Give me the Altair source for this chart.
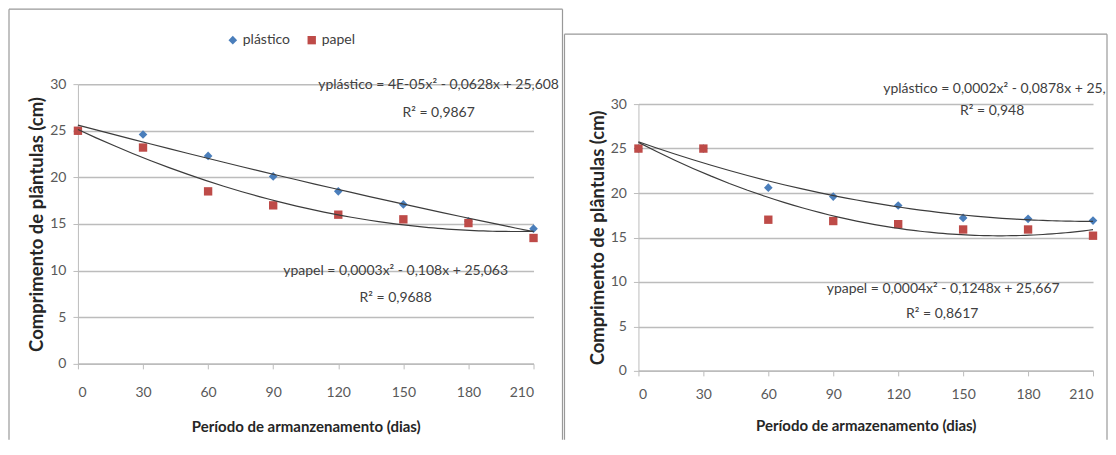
import altair as alt
import pandas as pd

# ---------------- data ----------------
dias = [0, 30, 60, 90, 120, 150, 180, 210]
series = ["plástico", "papel"]

# left chart
a_plastico = [25.0, 24.6, 22.3, 20.1, 18.5, 17.1, 15.3, 14.5]
a_papel = [25.0, 23.2, 18.5, 17.0, 16.0, 15.5, 15.1, 13.5]
# right chart
b_plastico = [25.0, 25.0, 20.6, 19.6, 18.6, 17.2, 17.1, 16.9]
b_papel = [25.0, 25.0, 17.0, 16.85, 16.5, 15.9, 15.9, 15.2]

y_ticks = [0, 5, 10, 15, 20, 25, 30]
a_texts = ["yplástico = 4E-05x² - 0,0628x + 25,608", "R² = 0,9867",
           "ypapel = 0,0003x² - 0,108x + 25,063", "R² = 0,9688"]
b_texts = ["yplástico = 0,0002x² - 0,0878x + 25,788", "R² = 0,948",
           "ypapel = 0,0004x² - 0,1248x + 25,667", "R² = 0,8617"]
y_title = "Comprimento de plântulas  (cm)"
a_x_title = "Período de armanzenamento (dias)"
b_x_title = "Período de armazenamento (dias)"

# ---------------- style ----------------
FONT = "Lato"
COLORS = ["#4A7EBB", "#BE4B48"]
SHAPES = ["diamond", "square"]
GRID = "#bcbcbc"
FRAME = "#999999"
TXT = "#404040"


def one(v):
    return alt.Chart(pd.DataFrame({"t": [v]}))


def panel(plas, pap, W, H, yrange, xtitle, texts, text_pos, frame, legend_xy,
          xtitle_y, xlabel_pad):
    df = pd.DataFrame({
        "dias": dias + dias,
        "valor": plas + pap,
        "serie": [series[0]] * len(dias) + [series[1]] * len(dias),
    })
    xenc = alt.X("dias:Q",
                 scale=alt.Scale(domain=[0, 210], nice=False, zero=False),
                 axis=alt.Axis(values=dias, grid=False, title=xtitle,
                               labelFont=FONT, labelFontSize=14, labelColor="#595959",
                               labelPadding=xlabel_pad, tickSize=5, tickColor=GRID,
                               domainColor=GRID, domainWidth=1.5,
                               titleFont=FONT, titleFontSize=15, titleFontWeight="bold",
                               titleColor="#262626", titleX=W / 2, titleY=xtitle_y,
                               titleAlign="center", titleBaseline="middle"))
    yenc = alt.Y("valor:Q",
                 scale=alt.Scale(domain=[0, 30], nice=False, zero=False, range=yrange),
                 axis=alt.Axis(values=y_ticks, grid=True, gridColor=GRID, gridWidth=1.5,
                               title=y_title, labelFont=FONT, labelFontSize=14,
                               labelColor="#595959", labelPadding=7, tickSize=5,
                               tickColor=GRID, domainColor=GRID, domainWidth=1,
                               titleFont=FONT, titleFontSize=18.5, titleFontWeight="bold",
                               titleColor="#262626", titleAngle=270, titleX=-41,
                               titleY=(yrange[0] + yrange[1]) / 2, titleAlign="center",
                               titleBaseline="middle"))
    base = alt.Chart(df)
    pts = base.mark_point(filled=True, opacity=1, strokeWidth=0).encode(
        x=xenc, y=yenc,
        color=alt.Color("serie:N", scale=alt.Scale(domain=series, range=COLORS),
                        legend=alt.Legend(title=None, orient="none", direction="horizontal",
                                          legendX=legend_xy[0], legendY=legend_xy[1],
                                          labelFont=FONT, labelFontSize=14, labelColor=TXT,
                                          symbolSize=45, symbolStrokeWidth=0,
                                          labelOffset=3, columnPadding=14, padding=0)),
        shape=alt.Shape("serie:N", scale=alt.Scale(domain=series, range=SHAPES)),
        size=alt.Size("serie:N", scale=alt.Scale(domain=series, range=[75, 70]), legend=None),
    )
    fit = base.transform_regression("dias", "valor", method="poly", order=2,
                                    groupby=["serie"]).mark_line(
        color="#3c3c3c", strokeWidth=1.2).encode(x="dias:Q", y="valor:Q", detail="serie:N")

    fx1, fx2, fy1, fy2 = frame
    layers = [
        one("l").mark_rule(stroke=FRAME, strokeWidth=1.2).encode(
            x=alt.value(fx1), y=alt.value(fy1), y2=alt.value(fy2)),
        one("r").mark_rule(stroke=FRAME, strokeWidth=1.2).encode(
            x=alt.value(fx2), y=alt.value(fy1), y2=alt.value(fy2)),
        one("t").mark_rule(stroke=FRAME, strokeWidth=1.2).encode(
            x=alt.value(fx1), x2=alt.value(fx2), y=alt.value(fy1)),
        pts, fit,
    ]
    for t, (px, py, al, lim) in zip(texts, text_pos):
        layers.append(one(t).mark_text(font=FONT, fontSize=14, color=TXT, align=al,
                                       baseline="middle", limit=lim,
                                       ellipsis="\u200b").encode(
            text="t:N", x=alt.value(px), y=alt.value(py)))
    return alt.layer(*layers).properties(width=W, height=H)


left = panel(a_plastico, a_papel, 456, 280, [280, 0], a_x_title, a_texts,
             [(361, 1, "center", 400), (361, 29, "center", 400),
              (318, 187, "center", 400), (318, 214, "center", 400)],
             (-69, 485, -75, 356), (148, -51), 63, 17)
right = panel(b_plastico, b_papel, 455, 287, [287, 20], b_x_title, b_texts,
              [(245, 5, "left", 230), (354, 27, "center", 400),
               (305, 205, "center", 400), (304, 230, "center", 400)],
              (-74, 469, -50, 356), (148, -28), 55, 12)

chart = alt.hconcat(left, right, spacing=0, bounds="full").properties(
    padding=0, background="white"
).configure_view(strokeWidth=0)

chart.save("out.html", embed_options={"renderer": "svg", "actions": False})
